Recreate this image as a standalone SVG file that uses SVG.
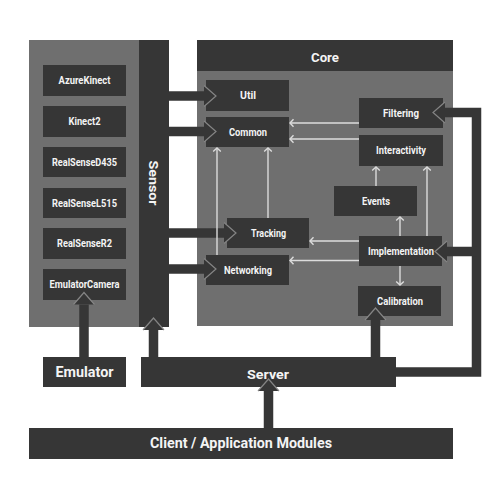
<svg xmlns="http://www.w3.org/2000/svg" width="500" height="500" viewBox="0 0 500 500">
<style>
.panel{fill:#6f6f6f}
.dark{fill:#363636}
.box{fill:#363636}
text{font-family:Roboto,"Liberation Sans",sans-serif;font-weight:bold;fill:#f4f4f4;text-anchor:middle}
.s{font-size:10px}
.m{font-size:13px}
.l{font-size:15px}
.thick{fill:none;stroke:#363636;stroke-width:9.5}
.thin{fill:none;stroke:#dcdcdc;stroke-width:1.4}
</style>
<defs>
<marker id="head" viewBox="0 -11 13 22" refX="0" refY="0" markerWidth="13" markerHeight="22" markerUnits="userSpaceOnUse" orient="auto" overflow="visible">
<path d="M0,-10.5 L12,0 L0,10.5 Z" fill="#363636"/>
<path d="M0,-10.5 L12,0 L0,10.5" fill="none" stroke="#858585" stroke-width="1.2"/>
</marker>
<marker id="open" viewBox="-5 -5 10 10" refX="0" refY="0" markerWidth="10" markerHeight="10" markerUnits="userSpaceOnUse" orient="auto" overflow="visible">
<path d="M-3.5,-3.8 L0,0 L-3.5,3.8" fill="none" stroke="#dcdcdc" stroke-width="1.4"/>
</marker>
</defs>
<rect width="500" height="500" fill="#ffffff"/>

<g id="sensors-panel">
<rect class="panel" x="29" y="40" width="110" height="287"/>
</g>
<g id="sensor">
<rect class="dark" x="139" y="40" width="30" height="287"/>
<text class="m" transform="translate(154,183) rotate(90)" x="0" y="4.6" textLength="45" lengthAdjust="spacingAndGlyphs">Sensor</text>
</g>
<g id="azurekinect"><rect class="box" x="43" y="65" width="83" height="31"/><text class="s" x="84.5" y="84" textLength="52" lengthAdjust="spacingAndGlyphs">AzureKinect</text></g>
<g id="kinect2"><rect class="box" x="43" y="106" width="83" height="31"/><text class="s" x="84.5" y="125" textLength="32" lengthAdjust="spacingAndGlyphs">Kinect2</text></g>
<g id="realsensed435"><rect class="box" x="43" y="147" width="83" height="30"/><text class="s" x="84.5" y="165.5" textLength="65" lengthAdjust="spacingAndGlyphs">RealSenseD435</text></g>
<g id="realsensel515"><rect class="box" x="43" y="188" width="83" height="30"/><text class="s" x="84.5" y="206.5" textLength="65" lengthAdjust="spacingAndGlyphs">RealSenseL515</text></g>
<g id="realsenser2"><rect class="box" x="43" y="228" width="83" height="31"/><text class="s" x="84.5" y="247" textLength="55" lengthAdjust="spacingAndGlyphs">RealSenseR2</text></g>
<g id="emulatorcamera"><rect class="box" x="43" y="269" width="83" height="31"/><text class="s" x="84.5" y="288" textLength="70" lengthAdjust="spacingAndGlyphs">EmulatorCamera</text></g>

<g id="core">
<rect class="panel" x="197" y="71" width="256" height="255"/>
<rect class="dark" x="197" y="40" width="256" height="31"/>
<text class="m" x="325" y="62" textLength="28" lengthAdjust="spacingAndGlyphs">Core</text>
</g>
<g id="util"><rect class="box" x="206" y="80" width="83" height="31"/><text class="s" x="248" y="99" textLength="16" lengthAdjust="spacingAndGlyphs">Util</text></g>
<g id="common"><rect class="box" x="206" y="117" width="83" height="30"/><text class="s" x="248" y="135.5" textLength="38" lengthAdjust="spacingAndGlyphs">Common</text></g>
<g id="filtering"><rect class="box" x="359" y="98" width="84" height="30"/><text class="s" x="401" y="116.5" textLength="36" lengthAdjust="spacingAndGlyphs">Filtering</text></g>
<g id="interactivity"><rect class="box" x="359" y="135" width="84" height="31"/><text class="s" x="401" y="154" textLength="50" lengthAdjust="spacingAndGlyphs">Interactivity</text></g>
<g id="events"><rect class="box" x="334" y="186" width="83" height="30"/><text class="s" x="376" y="204.5" textLength="28" lengthAdjust="spacingAndGlyphs">Events</text></g>
<g id="tracking"><rect class="box" x="227" y="218" width="82" height="30"/><text class="s" x="268.5" y="236.5" textLength="35" lengthAdjust="spacingAndGlyphs">Tracking</text></g>
<g id="implementation"><rect class="box" x="359" y="236" width="83" height="30"/><text class="s" x="401" y="254.5" textLength="66" lengthAdjust="spacingAndGlyphs">Implementation</text></g>
<g id="networking"><rect class="box" x="206" y="255" width="83" height="30"/><text class="s" x="248" y="273.5" textLength="48" lengthAdjust="spacingAndGlyphs">Networking</text></g>
<g id="calibration"><rect class="box" x="358" y="286" width="83" height="30"/><text class="s" x="400" y="304.5" textLength="46" lengthAdjust="spacingAndGlyphs">Calibration</text></g>

<g id="emulator"><rect class="box" x="43" y="357" width="83" height="30"/><text class="l" x="84.5" y="377" textLength="58" lengthAdjust="spacingAndGlyphs">Emulator</text></g>
<g id="server"><rect class="box" x="141" y="357" width="255" height="30"/><text class="m" x="268" y="378.5" textLength="42" lengthAdjust="spacingAndGlyphs">Server</text></g>
<g id="client"><rect class="box" x="29" y="428" width="424" height="31"/><text class="l" x="241" y="447.5" font-size="14" textLength="182" lengthAdjust="spacingAndGlyphs">Client / Application Modules</text></g>

<g id="connectors">
<path class="thick" d="M169,96 H204" marker-end="url(#head)"/>
<path class="thick" d="M169,131.5 H204" marker-end="url(#head)"/>
<path class="thick" d="M169,233 H224" marker-end="url(#head)"/>
<path class="thick" d="M169,269 H204" marker-end="url(#head)"/>
<path class="thick" d="M84,357 V304.5" marker-end="url(#head)"/>
<path class="thick" d="M153.5,357 V330" marker-end="url(#head)"/>
<path class="thick" d="M375.5,357 V320" marker-end="url(#head)"/>
<path class="thick" d="M268.5,428 V391" marker-end="url(#head)"/>
<path class="thick" stroke-linejoin="miter" d="M396,372 H476.5 V112.5 H445" marker-end="url(#head)"/>
<path class="thick" d="M476.5,251.5 H447" marker-end="url(#head)"/>

<path class="thin" d="M359,123 H290" marker-end="url(#open)"/>
<path class="thin" d="M359,139 H290" marker-end="url(#open)"/>
<path class="thin" d="M217,255 V148" marker-end="url(#open)"/>
<path class="thin" d="M268,218 V148" marker-end="url(#open)"/>
<path class="thin" d="M376,186 V167" marker-end="url(#open)"/>
<path class="thin" d="M427,236 V167" marker-end="url(#open)"/>
<path class="thin" d="M400,236 V217" marker-end="url(#open)"/>
<path class="thin" d="M359,241 H310" marker-end="url(#open)"/>
<path class="thin" d="M359,260.5 H290" marker-end="url(#open)"/>
<path class="thin" d="M400,266 V285" marker-end="url(#open)"/>
</g>
</svg>
